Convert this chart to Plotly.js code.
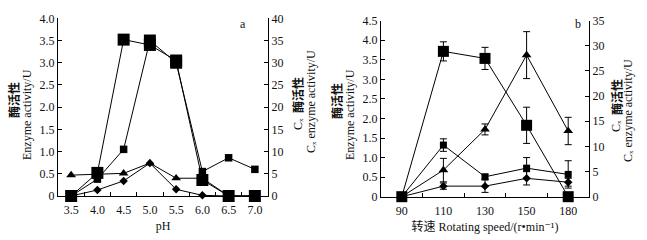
<!DOCTYPE html>
<html>
<head>
<meta charset="utf-8">
<script src="https://cdn.plot.ly/plotly-3.0.1.min.js"></script>
<style>html,body{margin:0;padding:0;background:#fff;}#chart{width:647px;height:240px;}</style>
</head>
<body>
<div id="chart"></div>
<script>
// ---------- DATA ----------
// Panel a: pH
const phCats = ['3.5','4.0','4.5','5.0','5.5','6.0','6.5','7.0'];
const phCx = [0, 5.2, 35.2, 34.0, 30.5, 3.6, 0, 0];          // right axis (Cx), large squares
const phSquare = [0, 0.38, 1.05, 3.50, 3.00, 0.55, 0.86, 0.60]; // left axis
const phTriangle = [0.47, 0.49, 0.51, 0.74, 0.40, 0.40, 0, 0];  // left axis
const phDiamond = [0, 0.135, 0.34, 0.74, 0.15, 0.015, 0, 0];    // left axis

// Panel b: rotating speed
const speedCats = ['90','110','130','150','180'];
const spCx = [0, 28.9, 27.5, 14.2, 0];          // right axis (Cx), large squares
const spCxErr = [0, 1.9, 2.2, 3.6, 0];
const spTriangle = [0, 0.68, 1.72, 3.62, 1.68];
const spTriangleErr = [0, 0.30, 0.14, 0.60, 0.35];
const spSquare = [0, 1.32, 0.51, 0.73, 0.57];
const spSquareErr = [0, 0.16, 0.06, 0.27, 0.35];
const spDiamond = [0, 0.27, 0.27, 0.47, 0.37];
const spDiamondErr = [0, 0.08, 0.16, 0.17, 0.10];

// Tick labels
const leftTicksA = ['0','0.5','1.0','1.5','2.0','2.5','3.0','3.5','4.0'];
const rightTicksA = ['0','5','10','15','20','25','30','35','40'];
const leftTicksB = ['0','0.5','1.0','1.5','2.0','2.5','3.0','3.5','4.0','4.5'];
const rightTicksB = ['0','5','10','15','20','25','30','35'];

// ---------- STYLE ----------
const W = 647, H = 240;
const FONT = 'Liberation Serif, "Noto Sans CJK SC", "DejaVu Serif", serif';
const CJK = '"Noto Sans CJK SC", Liberation Serif, serif';
const INK = '#000';
const TXT = '#111';
const px = v => v / W, py = v => 1 - v / H;
const sqSizesA = [7.5, 7.5, 7.5, 12, 12, 7.5, 7.5, 7.5];

function line(x, y, xa, ya, symbol, size, err) {
  const t = {
    x: x, y: y, xaxis: xa, yaxis: ya, type: 'scatter', mode: 'lines+markers',
    line: {color: INK, width: 1},
    marker: {symbol: symbol, size: size, color: INK, opacity: 1, line: {width: 0}},
    cliponaxis: false, showlegend: false, hoverinfo: 'skip'
  };
  if (err) t.error_y = {type: 'data', array: err, visible: true, color: INK, thickness: 1, width: 3.5};
  return t;
}

const data = [
  line(phCats, phDiamond, 'x', 'y', 'diamond', 6.5),
  line(phCats, phTriangle, 'x', 'y', 'triangle-up', 8.5),
  line(phCats, phSquare, 'x', 'y', 'square', sqSizesA),
  line(phCats, phCx, 'x', 'y2', 'square', 12),
  line(speedCats, spDiamond, 'x2', 'y3', 'diamond', 6.5, spDiamondErr),
  line(speedCats, spSquare, 'x2', 'y3', 'square', 7, spSquareErr),
  line(speedCats, spTriangle, 'x2', 'y3', 'triangle-up', 8.5, spTriangleErr),
  line(speedCats, spCx, 'x2', 'y4', 'square', 11, spCxErr)
];

const tickFont = {family: FONT, size: 12, color: TXT};
const titleFont = {family: FONT, size: 12, color: TXT};
function xAxis(domain, anchor, n, title) {
  return {
    domain: domain, anchor: anchor, type: 'category', range: [-0.5, n - 0.5],
    tickson: 'boundaries', ticks: 'inside', ticklen: 4, tickcolor: INK, tickwidth: 1,
    showline: true, linecolor: INK, linewidth: 1, showgrid: false, zeroline: false,
    tickfont: tickFont, ticklabelstandoff: 3, automargin: false, fixedrange: true,
    title: {text: title, font: titleFont, standoff: 5}
  };
}
function yAxis(domain, anchor, range, ticks, extra) {
  return Object.assign({
    domain: domain, anchor: anchor, range: range,
    tickvals: ticks.map(Number), ticktext: ticks,
    ticks: 'inside', ticklen: 4, tickcolor: INK, tickwidth: 1,
    showline: true, linecolor: INK, linewidth: 1, showgrid: false, zeroline: false,
    tickfont: tickFont, automargin: false, fixedrange: true
  }, extra || {});
}

function ann(text, x, y, angle, bold, family) {
  return {text: text, x: px(x), y: py(y), xref: 'paper', yref: 'paper',
    xanchor: 'center', yanchor: 'middle', showarrow: false, textangle: angle,
    font: {family: family || FONT, size: 12, color: TXT, weight: bold ? 'bold' : 'normal'}};
}

const layout = {
  width: W, height: H,
  margin: {l: 0, r: 0, t: 0, b: 0},
  paper_bgcolor: '#fff', plot_bgcolor: 'rgba(0,0,0,0)',
  showlegend: false,
  xaxis: xAxis([px(58), px(268)], 'y', phCats.length, 'pH'),
  yaxis: yAxis([py(196), py(18.3)], 'x', [0, 4], leftTicksA),
  yaxis2: yAxis([py(196), py(18.3)], 'x', [0, 40], rightTicksA, {overlaying: 'y', side: 'right'}),
  xaxis2: xAxis([px(381), px(589)], 'y3', speedCats.length, '转速 Rotating speed/(r•min⁻¹)'),
  yaxis3: yAxis([py(196.7), py(20.7)], 'x2', [0, 4.5], leftTicksB),
  yaxis4: yAxis([py(196.7), py(20.7)], 'x2', [0, 35], rightTicksB, {overlaying: 'y3', side: 'right'}),
  annotations: [
    // panel a, left axis title
    ann('酶活性', 13, 100, -90, true, CJK),
    ann('Enzyme activity/U', 27, 115, -90),
    // panel a, right axis title
    ann('酶活性', 298, 95, -90, true, CJK),
    ann('Cₓ', 298, 124, -90),
    ann('Cₓ enzyme activity/U', 311, 102, -90),
    // panel b, left axis title
    ann('酶活性', 336, 101, -90, true, CJK),
    ann('Enzyme activity/U', 350, 115, -90),
    // panel b, right axis title
    ann('酶活性', 616, 97, -90, true, CJK),
    ann('Cₓ', 616, 126, -90),
    ann('Cₓ enzyme activity/U', 628, 111, -90),
    // panel letters
    ann('a', 243, 24, 0),
    ann('b', 578, 24, 0)
  ]
};

Plotly.newPlot('chart', data, layout, {staticPlot: true, displayModeBar: false});
</script>
</body>
</html>
